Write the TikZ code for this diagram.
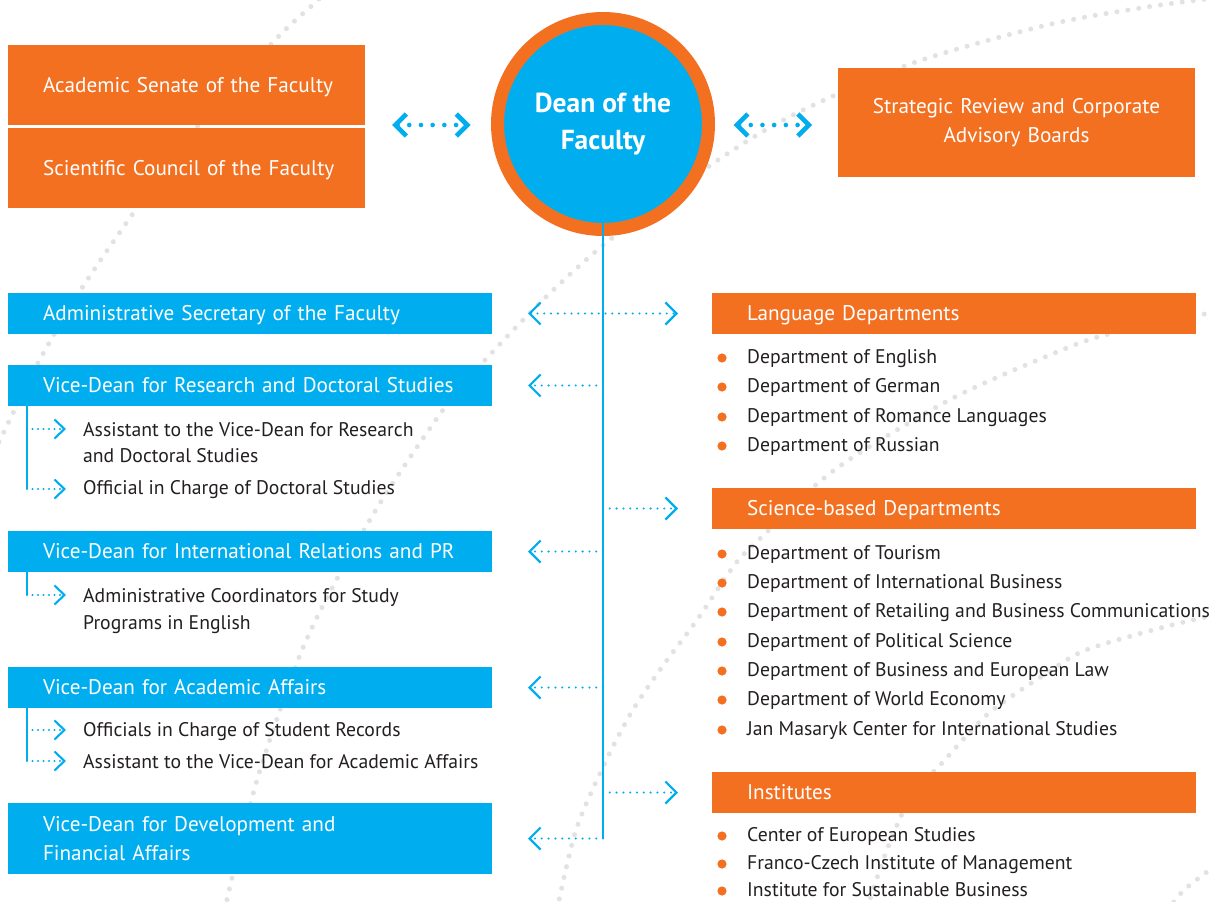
\documentclass[tikz,border=0pt]{standalone}
\usepackage{fontspec}
\setmainfont{PT Sans}
\usetikzlibrary{arrows.meta}
\definecolor{cblue}{HTML}{00AEEF}
\definecolor{corange}{HTML}{F37021}
\definecolor{ctext}{HTML}{231F20}
\definecolor{cdot}{HTML}{E2E2E2}
\newcommand{\fszbox}{\fontsize{21.2}{29}\selectfont}
\newcommand{\fsz}{\fontsize{19.7}{29}\selectfont}
\newcommand{\fsub}{\fontsize{19.7}{26.5}\selectfont}
\begin{document}
\begin{tikzpicture}[x=1pt,y=-1pt,
  bgdots/.style={cdot, line width=5pt, line cap=round, dash pattern=on 0pt off 11pt},
  bluebox/.style={fill=cblue, text=white, font=\fszbox, anchor=north west, inner xsep=35pt, inner ysep=0pt, outer sep=0pt, align=left},
  orangebox/.style={fill=corange, text=white, font=\fszbox, anchor=north west, inner xsep=35pt, inner ysep=0pt, outer sep=0pt, align=left},
  oneline/.style={text height=15pt, text depth=1pt},
  wide/.style={minimum width=484pt, text width=414pt},
  listitem/.style={text=ctext, font=\fsz, anchor=base west, inner sep=0pt},
  bullet/.style={fill=corange},
  bigarr/.style={cblue, line width=4.6pt, line cap=round, dash pattern=on 0pt off 11.7pt,
    {Straight Barb[length=11pt,width=22pt,line width=4.6pt]}-{Straight Barb[length=11pt,width=22pt,line width=4.6pt]}},
  thinarr/.style={cblue, line width=2.3pt, line cap=round, dash pattern=on 0pt off 6.8pt,
    -{Straight Barb[length=11pt,width=22pt,line width=2.2pt]}},
  thinboth/.style={thinarr, {Straight Barb[length=11pt,width=22pt,line width=2.2pt]}-{Straight Barb[length=11pt,width=22pt,line width=2.2pt]}},
  subarr/.style={cblue, line width=2.2pt, line cap=round, dash pattern=on 0pt off 5.5pt,
    -{Straight Barb[length=10pt,width=19pt,line width=2.1pt]}},
  trunk/.style={cblue, line width=2.8pt},
  subline/.style={cblue, line width=2.4pt}
]
\useasboundingbox (0,0) rectangle (1211,902);
\fill[white] (0,0) rectangle (1211,902);

% background dotted arcs
\begin{scope}
\clip (0,0) rectangle (1211,902);
\draw[bgdots] plot[smooth] coordinates {(325,-10) (318,0) (276,39) (197,127) (137,208) (82,288) (38,363) (0,440) (-5,450)};
\draw[bgdots] plot[smooth] coordinates {(1215,-2) (1147,7) (1047,25) (913,63) (797,113) (718,160) (612,238) (547,296) (486,359) (443,410) (382,500) (338,577) (300,655) (257,780) (228,895) (226,910)};
\draw[bgdots] plot[smooth] coordinates {(1215,312) (1105,335) (1045,357) (955,397) (864,450) (818,483) (767,532) (736,563) (697,620) (662,667) (631,713) (603,767) (576,830) (558,905)};
\draw[bgdots] plot[smooth] coordinates {(1215,615) (1164,627) (1086,650) (1047,673) (989,713) (942,763) (911,797) (888,847) (868,905)};
\draw[bgdots] plot[smooth] coordinates {(1215,866) (1184,890) (1168,910)};
\end{scope}

% top row
\node[orangebox, oneline, minimum width=357pt, minimum height=80pt, text width=287pt] (senate) at (8,45) {\mbox{Academic Senate of the Faculty}};
\node[orangebox, oneline, minimum width=357pt, minimum height=80pt, text width=287pt] (council) at (8,128) {\mbox{Scientific Council of the Faculty}};
\node[orangebox, minimum width=357pt, minimum height=109pt, text width=300pt, inner xsep=28.5pt, align=center] (strategic) at (838,68) {Strategic Review and Corporate\\Advisory Boards};
\node[circle, fill=cblue, draw=corange, line width=13pt, minimum size=211pt, inner sep=0pt, outer sep=0pt,
  text=white, font=\fontsize{27.5}{37}\selectfont\bfseries, align=center] (dean) at (603,124) {Dean of the\\Faculty};

\draw[bigarr] ([xshift=27pt]senate.south east) -- ([xshift=-27pt]dean.west |- senate.south east);
\draw[bigarr] ([xshift=25pt]dean.east |- senate.south east) -- ([xshift=-26pt]strategic.west |- senate.south east);

% left column boxes
\node[bluebox, oneline, wide, minimum height=41pt] (admsec) at (8,293) {Administrative Secretary of the Faculty};
\node[bluebox, oneline, wide, minimum height=41pt] (vdres) at (8,365) {Vice-Dean for Research and Doctoral Studies};
\node[bluebox, oneline, wide, minimum height=41pt] (vdint) at (8,531) {Vice-Dean for International Relations and PR};
\node[bluebox, oneline, wide, minimum height=41pt] (vdacad) at (8,667) {Vice-Dean for Academic Affairs};
\node[bluebox, wide, minimum height=71pt] (vddev) at (8,803) {Vice-Dean for Development and\\Financial Affairs};

% right column boxes
\node[orangebox, oneline, wide, minimum height=41pt] (lang) at (712,293) {Language Departments};
\node[orangebox, oneline, wide, minimum height=41pt] (sci) at (712,488) {Science-based Departments};
\node[orangebox, oneline, wide, minimum height=41pt] (inst) at (712,772) {Institutes};

% trunk and branches
\draw[trunk] ([yshift=12pt]dean.south) -- (dean.south |- vddev.east);
\draw[thinboth] ([xshift=36pt]admsec.east) -- ([xshift=-34pt]lang.west);
\draw[thinarr] (dean.south |- vdres.east) -- ([xshift=36pt]vdres.east);
\draw[thinarr] (dean.south |- vdint.east) -- ([xshift=36pt]vdint.east);
\draw[thinarr] (dean.south |- vdacad.east) -- ([xshift=36pt]vdacad.east);
\draw[thinarr] (dean.south |- vddev.east) -- ([xshift=36pt]vddev.east);
\draw[thinarr] (dean.south |- sci.west) -- ([xshift=-34pt]sci.west);
\draw[thinarr] (dean.south |- inst.west) -- ([xshift=-34pt]inst.west);

% sub-items
\node[listitem] (ra) at (83,436) {\parbox[t]{390pt}{\fsub Assistant to the Vice-Dean for Research\\and Doctoral Studies}};
\node[listitem] (rb) at (83,494) {Official in Charge of Doctoral Studies};
\node[listitem] (ia) at (83,602) {\parbox[t]{390pt}{\fontsize{19.7}{27}\selectfont Administrative Coordinators for Study\\Programs in English}};
\node[listitem] (aa) at (83,736) {Officials in Charge of Student Records};
\node[listitem] (ab) at (83,768) {Assistant to the Vice-Dean for Academic Affairs};

\coordinate (vres) at ([xshift=19pt]vdres.south west);
\coordinate (vint) at ([xshift=19pt]vdint.south west);
\coordinate (vacad) at ([xshift=19pt]vdacad.south west);
\coordinate (era) at ([xshift=-17pt,yshift=7pt]ra.base west);
\coordinate (erb) at ([xshift=-17pt,yshift=5pt]rb.base west);
\coordinate (eia) at ([xshift=-17pt,yshift=7pt]ia.base west);
\coordinate (eaa) at ([xshift=-17pt,yshift=6pt]aa.base west);
\coordinate (eab) at ([xshift=-17pt,yshift=7pt]ab.base west);

\draw[subline] (vres) -- (vres |- erb);
\draw[subline] (vint) -- (vint |- eia);
\draw[subline] (vacad) -- (vacad |- eab);
\draw[subarr] (vres |- era) -- (era);
\draw[subarr] (vres |- erb) -- (erb);
\draw[subarr] (vint |- eia) -- (eia);
\draw[subarr] (vacad |- eaa) -- (eaa);
\draw[subarr] (vacad |- eab) -- (eab);

% lists
\node[listitem] (l1) at (747,363) {Department of English};
\node[listitem] (l2) at (747,392) {Department of German};
\node[listitem] (l3) at (747,422) {Department of Romance Languages};
\node[listitem] (l4) at (747,451) {Department of Russian};
\node[listitem] (s1) at (747,559) {Department of Tourism};
\node[listitem] (s2) at (747,588) {Department of International Business};
\node[listitem] (s3) at (747,617) {Department of Retailing and Business Communications};
\node[listitem] (s4) at (747,647) {Department of Political Science};
\node[listitem] (s5) at (747,676) {Department of Business and European Law};
\node[listitem] (s6) at (747,705) {Department of World Economy};
\node[listitem] (s7) at (747,735) {Jan Masaryk Center for International Studies};
\node[listitem] (i1) at (747,841) {Center of European Studies};
\node[listitem] (i2) at (747,869) {Franco-Czech Institute of Management};
\node[listitem] (i3) at (747,896) {Institute for Sustainable Business};
\foreach \n in {l1,l2,l3,l4,s1,s2,s3,s4,s5,s6,s7,i1,i2,i3}
  \fill[bullet] ([xshift=-25pt,yshift=5pt]\n.base west) circle (4.6pt);
\end{tikzpicture}
\end{document}
